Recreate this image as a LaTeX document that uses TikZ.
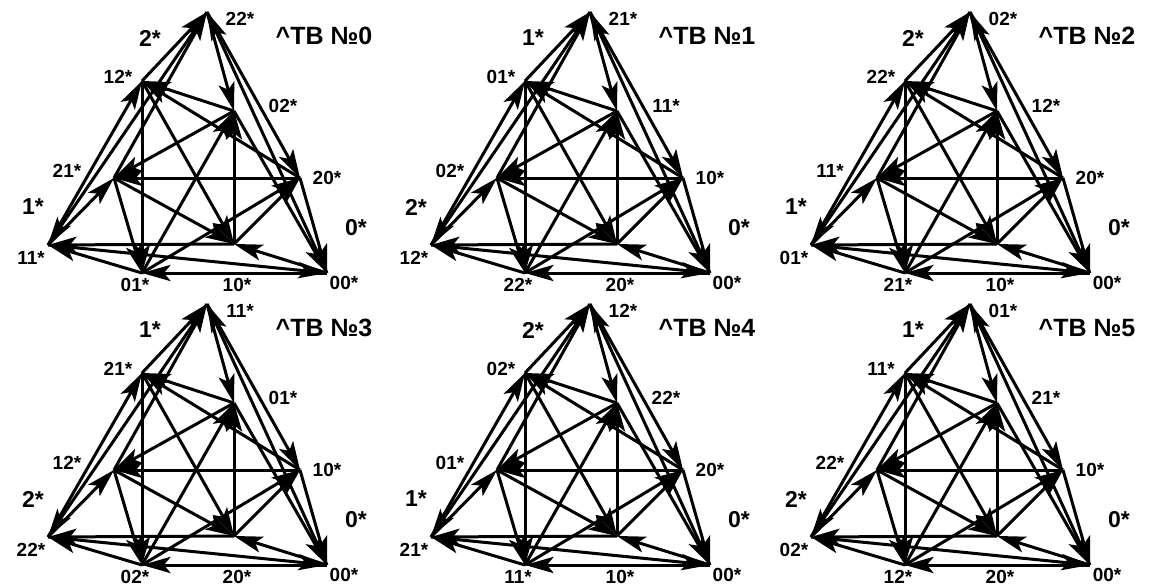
\documentclass[tikz,border=0pt]{standalone}
\usepackage{fontspec}
\setmainfont{Liberation Sans}
\usetikzlibrary{calc}

\tikzset{
  link/.style={line width=3pt,shorten >=12pt},
  lbl/.style={font=\bfseries\fontsize{19}{19}\selectfont,inner sep=0pt},
  side/.style={font=\bfseries\fontsize{23}{23}\selectfont,inner sep=0pt},
  ttl/.style={font=\bfseries\fontsize{25}{25}\selectfont,inner sep=0pt}
}

\begin{document}
\begin{tikzpicture}[x=1pt,y=-1pt]
\useasboundingbox (0,0) rectangle (1159,586);
% six panels, same graph, labels permuted
\foreach \n/\px/\py/\la/\lb/\lc/\ld/\le/\lf/\lg/\lh/\li/\sa/\sb in {
  0/0/0/22/12/02/21/20/11/10/01/00/2/1,
  1/383/0/21/01/11/02/10/12/20/22/00/1/2,
  2/763/0/02/22/12/11/20/01/10/21/00/2/1,
  3/0/292/11/21/01/12/10/22/20/02/00/1/2,
  4/383/292/12/02/22/01/20/21/10/11/00/2/1,
  5/763/292/01/11/21/22/10/02/20/12/00/1/2}{
\begin{scope}[shift={(\px,\py)}]
  \coordinate (v\n a) at (207,12);  % 22
  \coordinate (v\n b) at (142,81);  % 12
  \coordinate (v\n c) at (234,111); % 02
  \coordinate (v\n d) at (114,178); % 21
  \coordinate (v\n e) at (300,178); % 20
  \coordinate (v\n f) at (48,245);  % 11
  \coordinate (v\n g) at (234,244); % 10
  \coordinate (v\n h) at (142,273); % 01
  \coordinate (v\n i) at (327,273); % 00
  % arrows x -> x+(1,0), x -> x+(0,1), x -> x+(2,2)
  \foreach \p/\q in {i/g,g/e,e/i,h/f,f/d,d/h,c/b,b/a,a/c,
                     i/h,h/c,c/i,g/f,f/b,b/g,e/d,d/a,a/e,
                     i/a,a/f,f/i,h/e,e/b,b/h,c/d,d/g,g/c}{
    \draw[link] (v\n\p) -- (v\n\q);
    % spiky head
    \fill ($(v\n\q)!30pt!16:(v\n\p)$) -- (v\n\q)
      -- ($(v\n\q)!30pt!-16:(v\n\p)$) -- ($(v\n\q)!22pt!(v\n\p)$) -- cycle;
  }
  \node[lbl] (l\n a) at (240,19) {\la*};
  \node[lbl] (l\n b) at (118,77) {\lb*};
  \node[lbl] (l\n c) at (283,106) {\lc*};
  \node[lbl] (l\n d) at (67,171) {\ld*};
  \node[lbl] (l\n e) at (327,178) {\le*};
  \node[lbl] (l\n f) at (31,258) {\lf*};
  \node[lbl] (l\n g) at (237,285) {\lg*};
  \node[lbl] (l\n h) at (135,285) {\lh*};
  \node[lbl] (l\n i) at (344,283) {\li*};
  \node[side] (s\n a) at (150,38) {\sa*};
  \node[side] (s\n b) at (33,207) {\sb*};
  \node[side] (s\n c) at (356,228) {0*};
  \node[ttl] (t\n) at (324,36) {\^{}TB №\n};
\end{scope}}
\end{tikzpicture}
\end{document}
